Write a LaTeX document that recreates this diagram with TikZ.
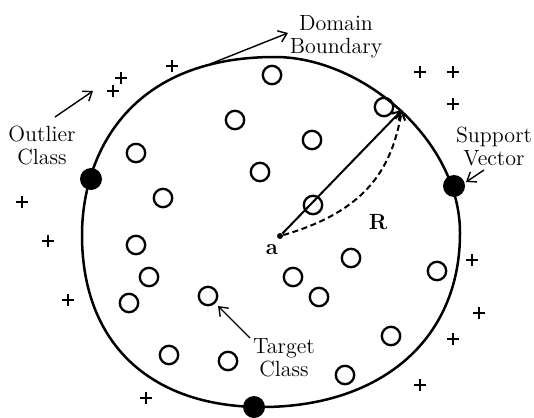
\documentclass[tikz,border=0pt]{standalone}
\usetikzlibrary{arrows.meta}
\begin{document}
\begin{tikzpicture}[x=0.5pt,y=-0.5pt,
  lbl/.style={font=\fontsize{11}{11.5}\selectfont, align=center, inner sep=0pt},
  bold/.style={font=\fontsize{11}{12}\selectfont\bfseries, inner sep=0pt},
  target/.style={circle, draw, line width=1.15pt, minimum size=9.2pt, inner sep=0pt},
  sv/.style={circle, fill=black, minimum size=11pt, inner sep=0pt},
  centre/.style={circle, fill=black, minimum size=3pt, inner sep=0pt},
  boundary/.style={line width=1.25pt},
  pointer/.style={line width=0.7pt, -{Straight Barb[length=4pt,width=6pt]}},
  radius/.style={line width=1pt, -{Straight Barb[length=4pt,width=5pt]}},
  pluspen/.style={line width=1.3pt},
  plusmark/.pic={\draw[pluspen] (-6,0)--(6,0) (0,-6)--(0,6);}
]
\useasboundingbox (0,0) rectangle (534,417);

% domain boundary
\draw[boundary] (275,57) .. controls (362,57) and (460,140) .. (460,233)
  .. controls (460,343) and (377,407) .. (262,407)
  .. controls (152,407) and (82,345) .. (82,235)
  .. controls (82,160) and (124,57) .. (275,57) -- cycle;

% target class circles
\node[target] (t1) at (272,75) {};
\node[target] (t2) at (235,120) {};
\node[target] (t3) at (384,107) {};
\node[target] (t4) at (312,140) {};
\node[target] (t5) at (136,153) {};
\node[target] (t6) at (260,172) {};
\node[target] (t7) at (163,198) {};
\node[target] (t8) at (313,205) {};
\node[target] (t9) at (136,245) {};
\node[target] (t10) at (149,277) {};
\node[target] (t11) at (129,303) {};
\node[target] (t12) at (208,296) {};
\node[target] (t13) at (293,277) {};
\node[target] (t14) at (351,258) {};
\node[target] (t15) at (319,297) {};
\node[target] (t16) at (437,271) {};
\node[target] (t17) at (391,336) {};
\node[target] (t18) at (169,355) {};
\node[target] (t19) at (228,361) {};
\node[target] (t20) at (345,375) {};

% support vectors
\node[sv] (s1) at (91,179) {};
\node[sv] (s2) at (454,186) {};
\node[sv] (s3) at (254,407) {};

% outliers
\pic at (172,66) {plusmark};
\pic at (121,78) {plusmark};
\pic at (113,91) {plusmark};
\pic at (22,202) {plusmark};
\pic at (420,72) {plusmark};
\pic at (453,72) {plusmark};
\pic at (453,104) {plusmark};
\pic at (48,241) {plusmark};
\pic at (68,300) {plusmark};
\pic at (146,398) {plusmark};
\pic at (472,260) {plusmark};
\pic at (479,313) {plusmark};
\pic at (453,339) {plusmark};
\pic at (420,385) {plusmark};

% centre and radius
\node[centre] (a) at (280,236) {};
\coordinate (tip) at (402,110);
\draw[radius] (a) -- (tip);
\draw[radius, dash pattern=on 3pt off 1.8pt] (a) .. controls (370,210) and (392,165) .. (tip);
\node[bold] (alabel) at (272,250) {a};
\node[bold] (rlabel) at (378,222) {R};

% labels
\node[lbl] (db) at (336,37) {Domain\\Boundary};
\coordinate (dbfrom) at (210,64);
\coordinate (dbto) at (288,33);
\draw[pointer] (dbfrom) -- (dbto);

\node[lbl] (oc) at (42,145) {Outlier\\Class};
\coordinate (ocfrom) at (55,117);
\coordinate (octo) at (93,91);
\draw[pointer] (ocfrom) -- (octo);

\node[lbl] (svl) at (494,146) {Support\\Vector};
\coordinate (svfrom) at (484,170);
\coordinate (svto) at (466,182);
\draw[pointer] (svfrom) -- (svto);

\node[lbl] (tc) at (284,358) {Target\\Class};
\coordinate (tcfrom) at (250,338);
\coordinate (tcto) at (218,306);
\draw[pointer] (tcfrom) -- (tcto);
\end{tikzpicture}
\end{document}
